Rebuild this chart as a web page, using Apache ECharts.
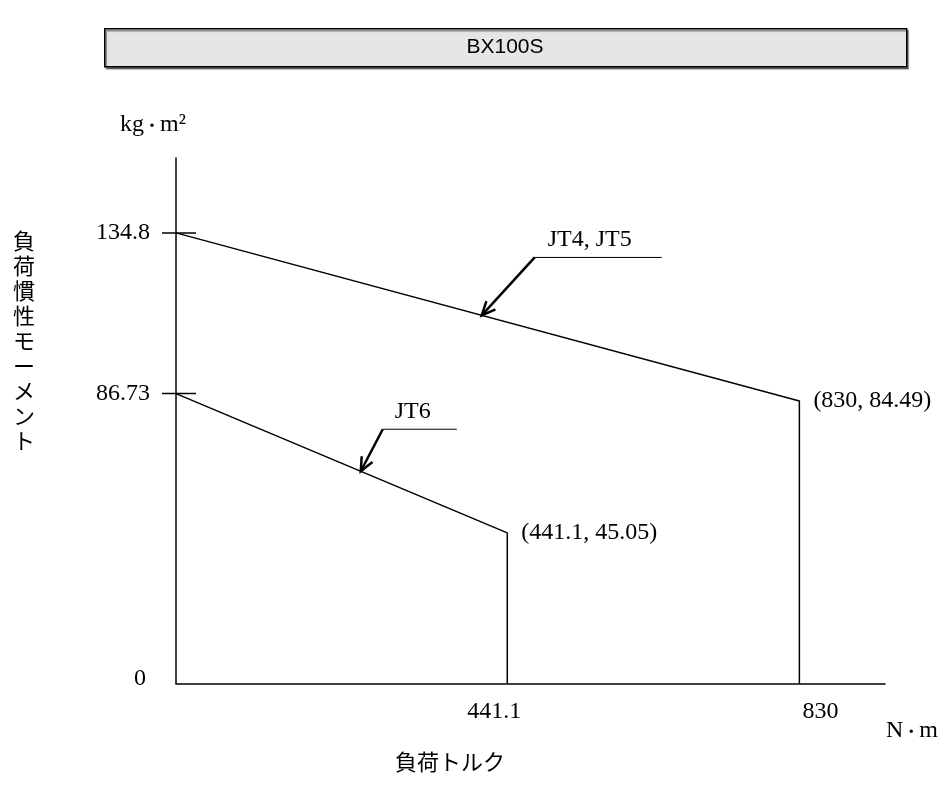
<!DOCTYPE html>
<html>
<head>
<meta charset="utf-8">
<script src="https://cdn.jsdelivr.net/npm/echarts@6/dist/echarts.min.js"></script>
<style>html,body{margin:0;padding:0;background:#fff}#c{width:952px;height:789px}</style>
</head>
<body>
<div id="c"></div>
<script>
// ---- data ----
const chartTitle = 'BX100S';
const xTickValues = [441.1, 830];
const yTickValues = [0, 86.73, 134.8];
const jt45 = [[0, 134.8], [830, 84.49], [830, 0]];
const jt6 = [[0, 86.73], [441.1, 45.05], [441.1, 0]];
const cornerPoints = [[830, 84.49], [441.1, 45.05]];
const annotationNames = ['JT4, JT5', 'JT6'];
const annotationTips = [[407, 110.1], [246, 63.5]];
const yName = '負荷慣性モーメント';
const xName = '負荷トルク';
const yUnitParts = ['kg', '・', 'm²'];
const xUnitParts = ['N', '・', 'm'];

// ---- styles ----
const SERIF = "'Liberation Serif', 'Times New Roman', serif";
const SANS = "'Liberation Sans', Arial, sans-serif";
const CJK = "'Noto Sans CJK JP', sans-serif";
const NUM_SIZE = 24;
const annGeom = [
  {dx: 53, dy: -58, len: 127, tdx: 13},
  {dx: 22, dy: -42, len: 74, tdx: 12}
];
const unitRich = {
  t: {fontFamily: SERIF, fontSize: NUM_SIZE, fill: '#000', color: '#000'},
  d: {fontFamily: CJK, fontSize: 16, fill: '#000', color: '#000'}
};
function unitText(parts) { return '{t|' + parts[0] + '}{d|' + parts[1] + '}{t|' + parts[2] + '}'; }

const chart = echarts.init(document.getElementById('c'), null, {renderer: 'canvas'});
const lineStyle = {color: '#000', width: 1.5};

const option = {
  animation: false,
  backgroundColor: '#fff',
  grid: {left: 176, right: 67, top: 158, bottom: 105.5},
  xAxis: {
    type: 'value', min: 0, max: 944,
    axisLine: {show: true, lineStyle: {color: '#000', width: 1.5}},
    axisTick: {show: false},
    splitLine: {show: false},
    axisLabel: {
      customValues: xTickValues,
      margin: 16,
      fontFamily: SERIF, fontSize: NUM_SIZE, color: '#000',
      formatter: function (v) { return v === 830 ? '{r|' + v + '}' : '{l|' + v + '}'; },
      rich: {
        l: {fontFamily: SERIF, fontSize: NUM_SIZE, color: '#000', padding: [0, 26, 0, 0]},
        r: {fontFamily: SERIF, fontSize: NUM_SIZE, color: '#000', padding: [0, 0, 0, 42]}
      }
    }
  },
  yAxis: {
    type: 'value', min: 0, max: 157.2,
    axisLine: {show: true, lineStyle: {color: '#000', width: 1.5}},
    axisTick: {show: false},
    splitLine: {show: false},
    axisLabel: {
      customValues: yTickValues,
      margin: 26,
      fontFamily: SERIF, fontSize: NUM_SIZE, color: '#000',
      formatter: function (v) { return v === 0 ? '{z|0}' : '' + v; },
      rich: {
        z: {fontFamily: SERIF, fontSize: NUM_SIZE, color: '#000', padding: [0, 4, 10, 0]}
      }
    }
  },
  graphic: [
    {
      type: 'rect', left: 104, top: 28, z: 10,
      shape: {width: 802, height: 38},
      style: {fill: '#e6e6e6', stroke: '#000', lineWidth: 1.5,
        shadowColor: 'rgba(0,0,0,0.45)', shadowOffsetX: 1.5, shadowOffsetY: 2, shadowBlur: 1}
    },
    {
      type: 'text', x: 505, y: 47, z: 11,
      style: {text: chartTitle, font: '21px ' + SANS, fill: '#000', align: 'center', verticalAlign: 'middle'}
    },
    {
      type: 'text', x: 24, y: 341,
      style: {text: yName.split('').join('\n'), font: '22px ' + CJK, lineHeight: 25,
        fill: '#000', align: 'center', verticalAlign: 'middle'}
    },
    {
      type: 'text', x: 450, y: 762,
      style: {text: xName, font: '22px ' + CJK, fill: '#000', align: 'center', verticalAlign: 'middle'}
    },
    {
      type: 'text', x: 120, y: 125,
      style: {text: unitText(yUnitParts), rich: unitRich, fill: '#000', align: 'left', verticalAlign: 'middle'}
    },
    {
      type: 'text', x: 886, y: 731,
      style: {text: unitText(xUnitParts), rich: unitRich, fill: '#000', align: 'left', verticalAlign: 'middle'}
    }
  ],
  series: [
    {
      type: 'line', name: 'JT4, JT5', data: jt45,
      symbol: 'none', lineStyle: lineStyle, z: 3
    },
    {
      type: 'line', name: 'JT6', data: jt6,
      symbol: 'none', lineStyle: lineStyle, z: 3
    },
    {
      type: 'custom', name: 'corners', data: cornerPoints,
      encode: {x: 0, y: 1},
      renderItem: function (params, api) {
        const p = api.coord([api.value(0), api.value(1)]);
        return {type: 'text', x: p[0] + 14, y: p[1],
          style: {text: '(' + api.value(0) + ', ' + api.value(1) + ')',
            font: NUM_SIZE + 'px ' + SERIF, fill: '#000', align: 'left', verticalAlign: 'middle'}};
      },
      z: 4
    },
    {
      type: 'custom', name: 'ticks',
      data: yTickValues.filter(function (v) { return v > 0; }).map(function (v) { return [0, v]; }),
      encode: {x: 0, y: 1},
      renderItem: function (params, api) {
        const p = api.coord([api.value(0), api.value(1)]);
        return {type: 'line', shape: {x1: p[0] - 14, y1: p[1], x2: p[0] + 20, y2: p[1]},
          style: {stroke: '#000', lineWidth: 1.5}};
      },
      z: 4
    },
    {
      type: 'custom', name: 'annotations',
      data: annotationTips.map(function (t, i) { return [t[0], t[1], i]; }),
      encode: {x: 0, y: 1},
      renderItem: function (params, api) {
        const i = api.value(2);
        const g = annGeom[i];
        const tip = api.coord([api.value(0), api.value(1)]);
        const ex = tip[0] + g.dx, ey = tip[1] + g.dy;
        const ang = Math.atan2(ey - tip[1], ex - tip[0]);
        const hl = 15, ha = 0.42;
        return {
          type: 'group',
          children: [
            {type: 'line', shape: {x1: ex, y1: ey, x2: tip[0], y2: tip[1]}, style: {stroke: '#000', lineWidth: 2.5}},
            {type: 'polyline', shape: {points: [
              [tip[0] + hl * Math.cos(ang - ha), tip[1] + hl * Math.sin(ang - ha)],
              [tip[0], tip[1]],
              [tip[0] + hl * Math.cos(ang + ha), tip[1] + hl * Math.sin(ang + ha)]
            ]}, style: {stroke: '#000', lineWidth: 2.5, fill: null}},
            {type: 'line', shape: {x1: ex, y1: ey, x2: ex + g.len, y2: ey}, style: {stroke: '#000', lineWidth: 1}},
            {type: 'text', x: ex + g.tdx, y: ey - 6,
              style: {text: annotationNames[i], font: NUM_SIZE + 'px ' + SERIF, fill: '#000',
                align: 'left', verticalAlign: 'bottom'}}
          ]
        };
      },
      z: 5
    }
  ]
};
chart.setOption(option);
</script>
</body>
</html>
